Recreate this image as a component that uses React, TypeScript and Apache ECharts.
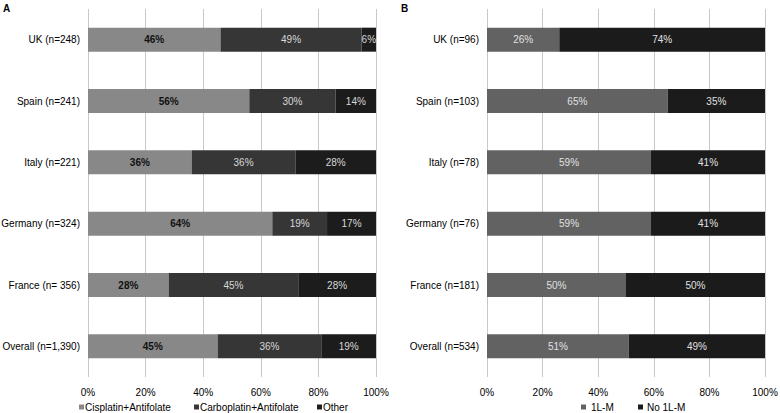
import React, { useEffect, useRef } from "react";
import * as echarts from "echarts";

const categoriesA = ["UK (n=248)", "Spain (n=241)", "Italy (n=221)", "Germany (n=324)", "France (n= 356)", "Overall (n=1,390)"];
const cisplatin = [46, 56, 36, 64, 28, 45];
const carboplatin = [49, 30, 36, 19, 45, 36];
const otherA = [6, 14, 28, 17, 28, 19];

const categoriesB = ["UK (n=96)", "Spain (n=103)", "Italy (n=78)", "Germany (n=76)", "France (n=181)", "Overall (n=534)"];
const firstLine = [26, 65, 59, 59, 50, 51];
const noFirstLine = [74, 35, 41, 41, 50, 49];

const legendA = ["Cisplatin+Antifolate", "Carboplatin+Antifolate", "Other"];
const legendB = ["1L-M", "No 1L-M"];

const FONT = "Liberation Sans, Arial, sans-serif";

export default function App() {
  const ref = useRef<HTMLDivElement>(null);
  useEffect(() => {
    if (!ref.current) return;
    const chart = echarts.init(ref.current, undefined, { renderer: "svg" });
    const xAxisCommon = {
      type: "value",
      min: 0,
      max: 100,
      interval: 20,
      axisLabel: { formatter: "{value}%", color: "#000", fontSize: 10, fontFamily: FONT, margin: 10 },
      splitLine: { show: true, lineStyle: { color: "#c8c8c8", width: 1 } },
      axisLine: { show: false },
      axisTick: { show: false },
    };
    const yAxisCommon = {
      type: "category",
      inverse: true,
      axisLabel: { color: "#000", fontSize: 10, fontFamily: FONT, margin: 8 },
      axisLine: { show: false },
      axisTick: { show: false },
    };
    const mkLabel = (color: string, bold = false) => ({
      show: true,
      position: "inside",
      formatter: "{c}%",
      color,
      fontSize: 10,
      fontFamily: FONT,
      fontWeight: bold ? "bold" : "normal",
    });
    const mkLegend = (name: string, left: number, textGap: number) => ({
      left,
      top: 402,
      padding: 0,
      itemWidth: 5,
      itemHeight: 5,
      icon: "rect",
      textStyle: { color: "#000", fontSize: 10, fontFamily: FONT, padding: [0, 0, 0, textGap - 5] },
      data: [name],
    });
    chart.setOption({
      animation: false,
      backgroundColor: "#fff",
      textStyle: { fontFamily: FONT },
      graphic: [
        { type: "text", left: 3, top: 3, style: { text: "A", font: "bold 10px " + FONT, fill: "#000" } },
        { type: "text", left: 401, top: 3, style: { text: "B", font: "bold 10px " + FONT, fill: "#000" } },
      ],
      grid: [
        { left: 88, width: 288, top: 9, bottom: 36, containLabel: false, outerBoundsMode: "none" },
        { left: 487, width: 278, top: 9, bottom: 36, containLabel: false, outerBoundsMode: "none" },
      ],
      xAxis: [
        { ...xAxisCommon, gridIndex: 0 },
        { ...xAxisCommon, gridIndex: 1 },
      ],
      yAxis: [
        { ...yAxisCommon, gridIndex: 0, data: categoriesA },
        { ...yAxisCommon, gridIndex: 1, data: categoriesB },
      ],
      legend: [
        mkLegend(legendA[0], 79, 1),
        mkLegend(legendA[1], 194, 1),
        mkLegend(legendA[2], 317, 1),
        mkLegend(legendB[0], 581, 5),
        mkLegend(legendB[1], 638, 4),
      ],
      series: [
        {
          name: legendA[0], type: "bar", stack: "a", xAxisIndex: 0, yAxisIndex: 0,
          data: cisplatin, barWidth: 24, itemStyle: { color: "#888888" }, label: mkLabel("#111", true),
        },
        {
          name: legendA[1], type: "bar", stack: "a", xAxisIndex: 0, yAxisIndex: 0,
          data: carboplatin, barWidth: 24, itemStyle: { color: "#363636" }, label: mkLabel("#d8d8d8"),
        },
        {
          name: legendA[2], type: "bar", stack: "a", xAxisIndex: 0, yAxisIndex: 0,
          data: otherA, barWidth: 24, itemStyle: { color: "#1c1c1c" }, label: mkLabel("#d8d8d8"),
        },
        {
          name: legendB[0], type: "bar", stack: "b", xAxisIndex: 1, yAxisIndex: 1,
          data: firstLine, barWidth: 24, itemStyle: { color: "#626262" }, label: mkLabel("#e0e0e0"),
        },
        {
          name: legendB[1], type: "bar", stack: "b", xAxisIndex: 1, yAxisIndex: 1,
          data: noFirstLine, barWidth: 24, itemStyle: { color: "#1b1b1b" }, label: mkLabel("#e0e0e0"),
        },
      ],
    });
    return () => chart.dispose();
  }, []);
  return <div ref={ref} style={{ width: 780, height: 413, position: "absolute", left: 0, top: 0 }} />;
}
